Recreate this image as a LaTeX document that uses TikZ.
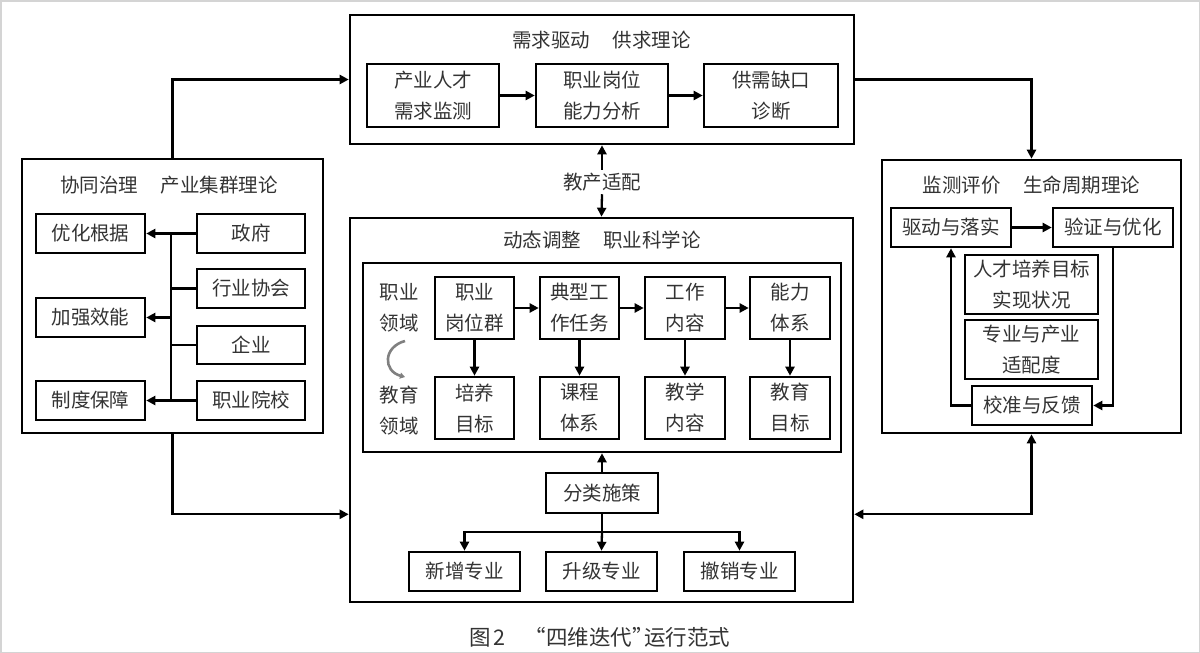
\documentclass[tikz,border=0pt]{standalone}
\usepackage{fontspec}
\setmainfont{Noto Sans CJK SC}
\usetikzlibrary{arrows.meta,calc}
\definecolor{txt}{HTML}{333333}
\definecolor{edge}{HTML}{D4D4D4}
\begin{document}
\begin{tikzpicture}[x=1pt,y=-1pt,
  bx/.style={draw=black, line width=2.6pt, inner sep=0pt, align=center, text=txt,
             font=\fontsize{19.5}{31}\selectfont},
  frame/.style={draw=black, line width=2.6pt, inner sep=0pt},
  ttl/.style={text=txt, font=\fontsize{19.5}{24}\selectfont, inner sep=0pt},
  lbl/.style={text=txt, align=center, font=\fontsize{19.5}{31}\selectfont, inner sep=0pt},
  con/.style={line width=2.3pt},
  arr/.style={con, -{Triangle[length=9pt,width=9pt]}},
  darr/.style={con, {Triangle[length=9pt,width=9pt]}-{Triangle[length=9pt,width=9pt]}}
]
\useasboundingbox (0,0) rectangle (1200,653);
\fill[white] (0,0) rectangle (1200,653);
\draw[edge, line width=3pt] (0,0) rectangle (1200,653);

% ---------- top box ----------
\node[frame, minimum width=504pt, minimum height=129pt] (T) at (602,79.5) {};
\node[ttl] (Tt) at (601.5,40) {需求驱动\hspace{1.15em}供求理论};
\node[bx, minimum width=132pt, minimum height=63pt] (t1) at (433,95.5) {产业人才\\需求监测};
\node[bx, minimum width=132pt, minimum height=63pt] (t2) at (602,95.5) {职业岗位\\能力分析};
\node[bx, minimum width=134pt, minimum height=63pt] (t3) at (771,95.5) {供需缺口\\诊断};
\draw[arr] (t1) -- (t2);
\draw[arr] (t2) -- (t3);

% ---------- left box ----------
\node[frame, minimum width=301pt, minimum height=274pt] (L) at (172.5,296) {};
\node[ttl] (Lt) at (169,185) {协同治理\hspace{1.15em}产业集群理论};
\node[bx, minimum width=109pt, minimum height=39pt] (l1) at (90.5,233.5) {优化根据};
\node[bx, minimum width=109pt, minimum height=39pt] (l2) at (90.5,317.5) {加强效能};
\node[bx, minimum width=109pt, minimum height=39pt] (l3) at (90.5,400.5) {制度保障};
\node[bx, minimum width=108pt, minimum height=39pt] (r1) at (251,233.5) {政府};
\node[bx, minimum width=108pt, minimum height=39pt] (r2) at (251,288.5) {行业协会};
\node[bx, minimum width=108pt, minimum height=38pt] (r3) at (251,345) {企业};
\node[bx, minimum width=108pt, minimum height=39pt] (r4) at (251,400.5) {职业院校};
\coordinate (bt) at (171,233.5);
\coordinate (bb) at (171,400.5);
\draw[con] (bt) -- (bb);
\draw[con] (r1.west) -- (bt);
\draw[con] (r2.west) -- (r2.west -| bt);
\draw[con] (r3.west) -- (r3.west -| bt);
\draw[con] (r4.west) -- (bb);
\draw[arr] (bt) -- (l1.east);
\draw[arr] (bt |- l2.east) -- (l2.east);
\draw[arr] (bb) -- (l3.east);

% ---------- middle box ----------
\node[frame, minimum width=503pt, minimum height=384pt] (M) at (601.5,410) {};
\node[ttl] (Mt) at (602,240) {动态调整\hspace{1.15em}职业科学论};
\node[frame, minimum width=478pt, minimum height=189pt] (I) at (602,357.5) {};
\node[lbl] (zy) at (399,307.5) {职业\\领域};
\node[lbl] (jy) at (399,411) {教育\\领域};
\node[bx, minimum width=79pt, minimum height=62pt] (a1) at (474.5,308) {职业\\岗位群};
\node[bx, minimum width=79pt, minimum height=62pt] (a2) at (579.5,308) {典型工\\作任务};
\node[bx, minimum width=80pt, minimum height=62pt] (a3) at (685,308) {工作\\内容};
\node[bx, minimum width=80pt, minimum height=62pt] (a4) at (790,308) {能力\\体系};
\node[bx, minimum width=79pt, minimum height=62pt] (b1) at (474.5,408) {培养\\目标};
\node[bx, minimum width=79pt, minimum height=62pt] (b2) at (579.5,408) {课程\\体系};
\node[bx, minimum width=80pt, minimum height=62pt] (b3) at (685,408) {教学\\内容};
\node[bx, minimum width=80pt, minimum height=62pt] (b4) at (790,408) {教育\\目标};
\draw[arr] (a1) -- (a2);
\draw[arr] (a2) -- (a3);
\draw[arr] (a3) -- (a4);
\draw[arr] (a1) -- (b1);
\draw[arr] (a2) -- (b2);
\draw[arr] (a3) -- (b3);
\draw[arr] (a4) -- (b4);
\coordinate (cu) at (405,341);
\coordinate (cd) at (405,377);
\draw[gray, line width=2.6pt, -{Triangle[length=5pt,width=6pt]}]
  (cu) .. controls (383,347) and (383,371) .. (cd);

\node[bx, minimum width=112pt, minimum height=40pt] (fl) at (602,493) {分类施策};
\node[bx, minimum width=111pt, minimum height=39pt] (s1) at (464.5,571.5) {新增专业};
\node[bx, minimum width=111pt, minimum height=39pt] (s2) at (601.5,571.5) {升级专业};
\node[bx, minimum width=111pt, minimum height=39pt] (s3) at (739.5,571.5) {撤销专业};
\draw[arr] (fl.north) -- (fl.north |- I.south);
\coordinate (br) at (602,532);
\draw[con] (fl.south) -- (br);
\draw[arr] (br) -- (s2.north);
\draw[arr] (br) -| (s1.north);
\draw[arr] (br) -| (s3.north);

% ---------- right box ----------
\node[frame, minimum width=299pt, minimum height=273pt] (R) at (1031.5,296.5) {};
\node[ttl] (Rt) at (1031.5,185) {监测评价\hspace{1.15em}生命周期理论};
\node[bx, minimum width=120pt, minimum height=39pt] (d1) at (951,227.5) {驱动与落实};
\node[bx, minimum width=120pt, minimum height=39pt] (d2) at (1113,227.5) {验证与优化};
\node[bx, minimum width=133pt, minimum height=59pt] (d3) at (1031.5,284.5) {人才培养目标\\实现状况};
\node[bx, minimum width=133pt, minimum height=59pt] (d4) at (1031.5,349.5) {专业与产业\\适配度};
\node[bx, minimum width=120pt, minimum height=39pt] (d5) at (1032,405.5) {校准与反馈};
\draw[arr] (d1) -- (d2);
\draw[arr] (d2.south) |- (d5.east);
\draw[arr] (d5.west) -| (d1.south);

% ---------- links between blocks ----------
\node[ttl] (jc) at (602,182) {教产适配};
\draw[arr] ($(jc.north)+(0,-3)$) -- (T.south);
\draw[arr] ($(jc.south)+(0,3)$) -- (M.north);
\draw[arr] (L.north) |- (T.west);
\draw[arr] (T.east) -| (R.north);
\draw[arr] (L.south) |- (M.west |- fl.south);
\draw[darr] (M.east |- fl.south) -| (R.south);

% ---------- caption ----------
\node[text=txt, font=\fontsize{21.5}{26}\selectfont, inner sep=0pt] (cap) at (600,637)
  {图\hspace{0.1em}2\hspace{0.9em}“四维迭代”\hspace{-0.45em}运行范式};
\end{tikzpicture}
\end{document}
